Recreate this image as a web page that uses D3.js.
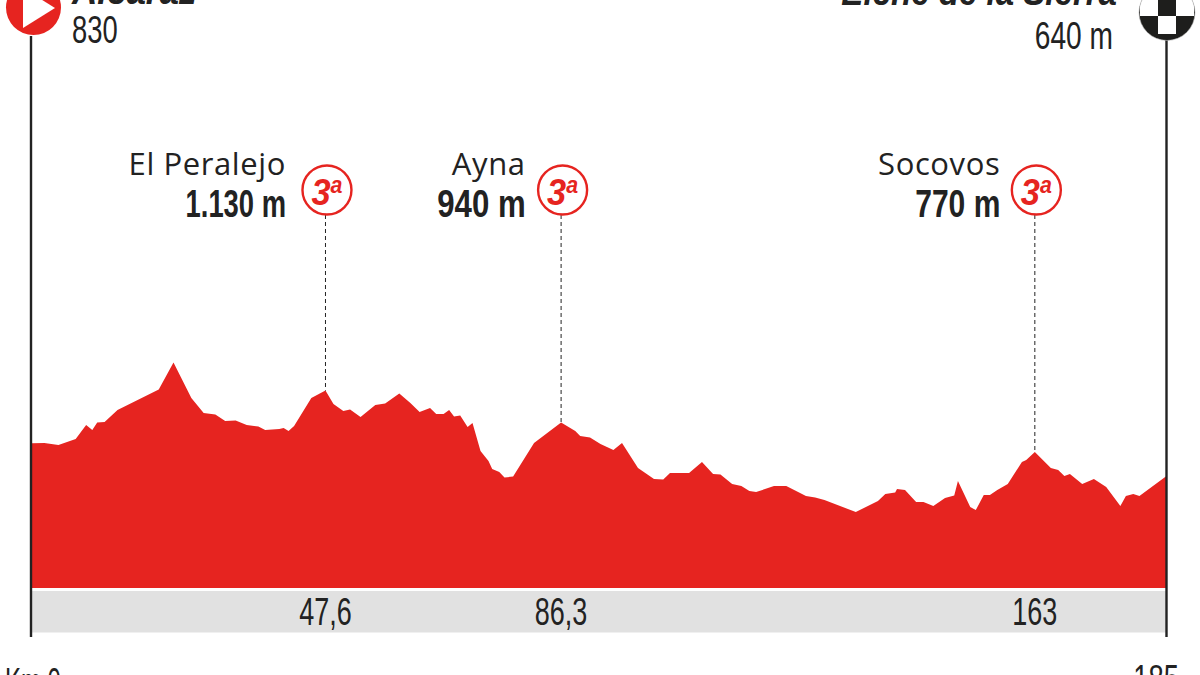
<!DOCTYPE html>
<html><head><meta charset="utf-8">
<script src="https://cdn.jsdelivr.net/npm/d3@7/dist/d3.min.js"></script>
<style>html,body{margin:0;padding:0;background:#fff;overflow:hidden}svg{display:block}
.cond{font-family:"Liberation Sans",sans-serif;fill:#222}
.name{font-family:"Open Sans",sans-serif;fill:#222}</style></head><body>
<svg id="c" width="1200" height="675"></svg>
<script>
const profileKm=[0,2,4.3,7.1,8.8,9.8,10.6,11.8,13.9,20.6,23,25.9,27.9,29.8,31.4,33.1,34.9,36.8,37.9,40.2,40.9,41.7,42.6,45.4,47.7,49,50.6,51.7,53.4,55.8,57.4,59.7,61.5,63,64.7,65.7,66.9,67.8,68.6,69.6,70.8,71.6,72.9,74.2,74.8,75.95,76.8,78.2,81.6,86,88.3,89.1,90.7,92.4,94.5,95.9,98.5,101.1,102.6,103.7,106.8,108.9,110.7,111.9,113.8,115.3,116.6,117.7,120.6,122.6,125.8,127.3,128.8,133.9,137.5,138.7,140.3,140.6,141.9,143.7,144.9,146.5,148.4,149.9,150.5,152.5,153.4,154.7,155.7,156.9,158.6,160.9,161.6,163,165.6,166.8,167.8,168.7,170.7,172.6,174.6,176.9,177.8,179,180,184.4];
const profileM=[825,826,815,849,929,900,943,946,1014,1131,1285,1083,997,989,952,954,929,920,900,906,912,895,923,1083,1125,1048,1009,1017,974,1043,1051,1108,1054,1003,1026,991,991,1014,977,983,917,940,781,724,678,661,630,635,826,943,895,866,858,821,786,826,684,621,618,655,655,718,650,647,593,581,553,547,581,581,524,516,501,433,496,536,544,564,558,490,490,467,513,527,610,462,444,530,530,558,593,718,729,775,684,672,638,650,593,621,575,467,524,536,524,638];
const climbNames=["El Peralejo","Ayna","Socovos"];
const climbHeights=["1.130 m","940 m","770 m"];
const climbKm=[47.7,86,163];
const climbPeakM=[1125,943,775];
const climbKmLabels=["47,6","86,3","163"];
const climbCategory=["3","3","3"];
const startName="Alcaraz", startHeight="830";
const finishName="Elche de la Sierra", finishHeight="640 m";
const endLabels=["Km 0","185"];

const svg=d3.select("#c");
const RED="#e62420",INK="#222";
const x=d3.scaleLinear().domain([0,184.4]).range([32,1166.5]);
const y=d3.scaleLinear().domain([0,1130]).range([588,389.7]);
const pts=profileKm.map((k,i)=>[k,profileM[i]]);

svg.append("rect").attr("x",x(0)).attr("y",591).attr("width",x(184.4)-x(0)).attr("height",41.5).attr("fill","#e1e1e1");
svg.append("path").attr("d",d3.area().x(d=>x(d[0])).y0(y(0)).y1(d=>y(d[1]))(pts)).attr("fill",RED);
svg.append("line").attr("x1",31).attr("x2",31).attr("y1",36).attr("y2",637).attr("stroke",INK).attr("stroke-width",2.4);
svg.append("line").attr("x1",1166.5).attr("x2",1166.5).attr("y1",40).attr("y2",637).attr("stroke",INK).attr("stroke-width",2.4);

svg.append("circle").attr("cx",33.5).attr("cy",7.5).attr("r",27.5).attr("fill",RED);
svg.append("path").attr("d","M23,-12L55,8L23,28Z").attr("fill","#fff");
svg.append("clipPath").attr("id","fc").append("circle").attr("cx",1167).attr("cy",12.5).attr("r",28);
const fg=svg.append("g").attr("clip-path","url(#fc)");
fg.append("rect").attr("x",1135).attr("y",-20).attr("width",65).attr("height",65).attr("fill","#1e1e1c");
[[1140,-2],[1176,-2],[1158,16]].forEach(p=>fg.append("rect").attr("x",p[0]).attr("y",p[1]).attr("width",18).attr("height",18).attr("fill","#fff"));
svg.append("circle").attr("cx",1167).attr("cy",12.5).attr("r",28).attr("fill","none").attr("stroke","#bbb").attr("stroke-width",.6);

// condensed text: the installed fonts have no narrow cut, so squeeze to a share of natural width
function cond(t,xp,yp,anchor,ratio,bold,italic){
  const s=svg.append("text").attr("class","cond").attr("x",xp).attr("y",yp).attr("text-anchor",anchor).attr("font-size",38)
    .attr("font-weight",bold?700:400).attr("font-style",italic?"italic":"normal").text(t);
  s.attr("textLength",s.node().getComputedTextLength()*ratio).attr("lengthAdjust","spacingAndGlyphs");
  return s;
}
cond(startName,72,4,"start",.92,true,true);
cond(startHeight,72,43,"start",.72);
cond(finishName,1117,5,"end",.87,true,true);
cond(finishHeight,1113,49,"end",.74);

const heightRatio=[.72,.82,.79], labelGap=[41,37,36];
climbNames.forEach((n,i)=>{
  const px=x(climbKm[i]);
  svg.append("line").attr("x1",px).attr("x2",px).attr("y1",215).attr("y2",y(climbPeakM[i]))
    .attr("stroke",INK).attr("stroke-width",1).attr("stroke-dasharray","4 3");
  const cx=px+1.5;
  svg.append("circle").attr("cx",cx).attr("cy",190).attr("r",24.5).attr("fill","#fff").attr("stroke",RED).attr("stroke-width",2.4);
  const t=svg.append("text").attr("x",cx).attr("y",205).attr("text-anchor","middle").attr("fill",RED)
    .attr("font-family","'Liberation Sans',sans-serif").attr("font-weight",700).attr("font-style","italic").attr("font-size",37)
    .attr("textLength",31).attr("lengthAdjust","spacingAndGlyphs").text(climbCategory[i]);
  t.append("tspan").attr("font-size",23).attr("dy",-12).text("a");
  svg.append("text").attr("class","name").attr("x",cx-labelGap[i]).attr("y",175).attr("text-anchor","end").attr("font-size",31).attr("letter-spacing",.6).text(n);
  cond(climbHeights[i],cx-labelGap[i],217,"end",heightRatio[i],true);
  cond(climbKmLabels[i],px,625,"middle",.71);
});
cond(endLabels[0],5,695,"start",.63);
cond(endLabels[1],1179,692,"end",.72);
</script></body></html>
